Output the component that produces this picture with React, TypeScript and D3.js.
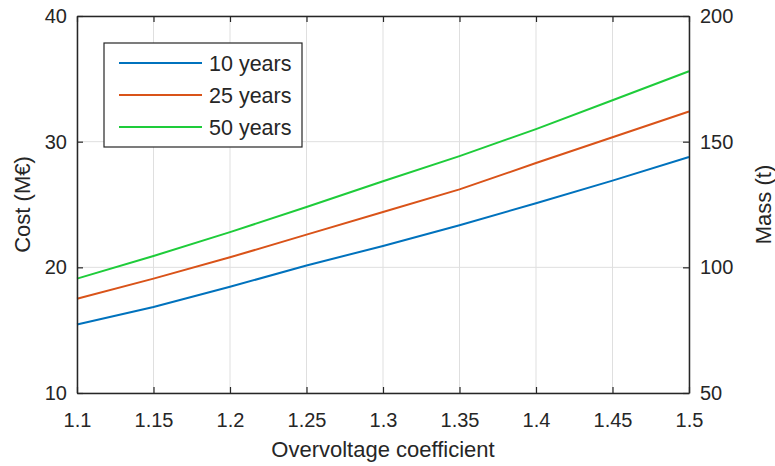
import { useEffect, useRef } from 'react';
import * as d3 from 'd3';

// overvoltage coefficient (x axis)
const coeffs = [1.1, 1.15, 1.2, 1.25, 1.3, 1.35, 1.4, 1.45, 1.5];
// cost in M€ per lifetime
const cost10 = [15.45, 16.85, 18.45, 20.15, 21.7, 23.35, 25.1, 26.9, 28.78];
const cost25 = [17.5, 19.1, 20.8, 22.6, 24.4, 26.2, 28.3, 30.35, 32.4];
const cost50 = [19.1, 20.9, 22.8, 24.8, 26.85, 28.85, 31.0, 33.3, 35.6];
const seriesNames = ['10 years', '25 years', '50 years'];
const seriesColors = ['#0072BD', '#D95319', '#1ecc3a'];

const xTicks = [1.1, 1.15, 1.2, 1.25, 1.3, 1.35, 1.4, 1.45, 1.5];
const costTicks = [10, 20, 30, 40];
const massTicks = [50, 100, 150, 200];

const App = () => {
  const ref = useRef<SVGSVGElement>(null);

  useEffect(() => {
    const svg = d3.select(ref.current);
    svg.selectAll('*').remove();

    const margin = { top: 16, right: 86, bottom: 73, left: 77 };
    const W = 775;
    const H = 466;
    const width = W - margin.left - margin.right;
    const height = H - margin.top - margin.bottom;
    const font = '"Liberation Sans", Arial, sans-serif';
    const axisColor = '#262626';

    const g = svg.append('g').attr('transform', `translate(${margin.left},${margin.top})`);

    const x = d3.scaleLinear().domain([1.1, 1.5]).range([0, width]);
    const y = d3.scaleLinear().domain([10, 40]).range([height, 0]);
    const yR = d3.scaleLinear().domain([50, 200]).range([height, 0]);

    // grid
    g.append('g')
      .selectAll('line')
      .data(xTicks)
      .join('line')
      .attr('x1', (d) => x(d))
      .attr('x2', (d) => x(d))
      .attr('y1', 0)
      .attr('y2', height)
      .attr('stroke', '#dfdfdf')
      .attr('stroke-width', 1);
    g.append('g')
      .selectAll('line')
      .data(costTicks)
      .join('line')
      .attr('x1', 0)
      .attr('x2', width)
      .attr('y1', (d) => y(d))
      .attr('y2', (d) => y(d))
      .attr('stroke', '#dfdfdf')
      .attr('stroke-width', 1);

    // lines
    const line = d3
      .line<number>()
      .x((_, i) => x(coeffs[i]))
      .y((d) => y(d));
    [cost10, cost25, cost50].forEach((vals, i) => {
      g.append('path')
        .datum(vals)
        .attr('d', line)
        .attr('fill', 'none')
        .attr('stroke', seriesColors[i])
        .attr('stroke-width', 2);
    });

    const styleAxis = (sel: any) => {
      sel.select('.domain').attr('stroke', axisColor).attr('stroke-width', 1.5);
      sel.selectAll('.tick line').attr('stroke', axisColor).attr('stroke-width', 1.2);
      sel
        .selectAll('.tick text')
        .attr('fill', axisColor)
        .style('font-family', font)
        .style('font-size', '20px');
    };

    // bottom axis
    const bottom = g
      .append('g')
      .attr('transform', `translate(0,${height})`)
      .call(
        d3
          .axisBottom(x)
          .tickValues(xTicks)
          .tickFormat((d) => String(d))
          .tickSizeInner(-6)
          .tickSizeOuter(0)
          .tickPadding(20)
      );
    styleAxis(bottom);

    // top axis (ticks only)
    const top = g
      .append('g')
      .call(d3.axisTop(x).tickValues(xTicks).tickFormat(() => '').tickSizeInner(-6).tickSizeOuter(0));
    styleAxis(top);

    // left axis
    const left = g
      .append('g')
      .call(d3.axisLeft(y).tickValues(costTicks).tickSizeInner(-6).tickSizeOuter(0).tickPadding(10));
    styleAxis(left);

    // right axis
    const right = g
      .append('g')
      .attr('transform', `translate(${width},0)`)
      .call(d3.axisRight(yR).tickValues(massTicks).tickSizeInner(-6).tickSizeOuter(0).tickPadding(11));
    styleAxis(right);

    // axis labels
    g.append('text')
      .attr('x', width / 2)
      .attr('y', height + 64)
      .attr('text-anchor', 'middle')
      .attr('fill', axisColor)
      .style('font-family', font)
      .style('font-size', '22px')
      .text('Overvoltage coefficient');
    g.append('text')
      .attr('transform', `translate(${-47},${height / 2}) rotate(-90)`)
      .attr('text-anchor', 'middle')
      .attr('fill', axisColor)
      .style('font-family', font)
      .style('font-size', '22px')
      .text('Cost (M€)');
    g.append('text')
      .attr('transform', `translate(${width + 82},${height / 2}) rotate(-90)`)
      .attr('text-anchor', 'middle')
      .attr('fill', axisColor)
      .style('font-family', font)
      .style('font-size', '22px')
      .text('Mass (t)');

    // legend
    const lg = svg.append('g').attr('transform', 'translate(104,43)');
    lg.append('rect')
      .attr('width', 198)
      .attr('height', 104)
      .attr('fill', '#fff')
      .attr('stroke', axisColor)
      .attr('stroke-width', 1.2);
    seriesNames.forEach((name, i) => {
      const cy = 20 + i * 32;
      lg.append('line')
        .attr('x1', 15)
        .attr('x2', 98)
        .attr('y1', cy)
        .attr('y2', cy)
        .attr('stroke', seriesColors[i])
        .attr('stroke-width', 2);
      lg.append('text')
        .attr('x', 105)
        .attr('y', cy + 8)
        .attr('fill', axisColor)
        .style('font-family', font)
        .style('font-size', '21.5px')
        .text(name);
    });
  }, []);

  return (
    <svg
      ref={ref}
      width={775}
      height={466}
      style={{ display: 'block', position: 'absolute', left: 0, top: 0 }}
    />
  );
};

export default App;
